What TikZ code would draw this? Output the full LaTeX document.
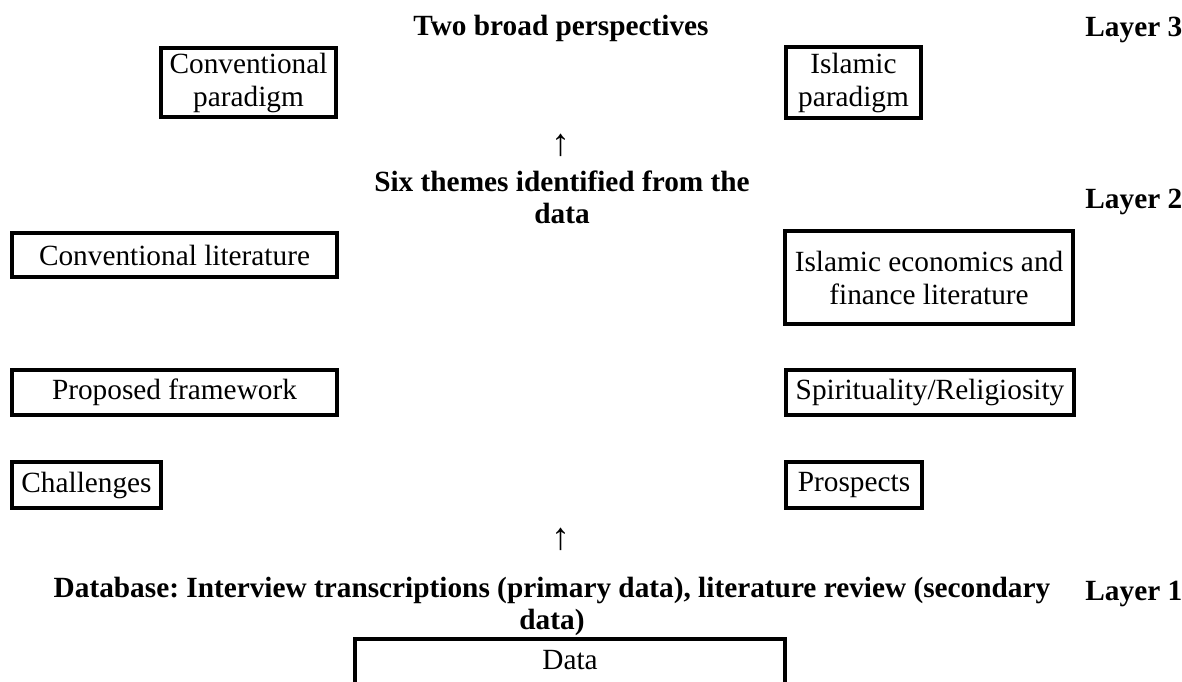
\documentclass[tikz,border=0pt]{standalone}
\usepackage{fontspec}
\setmainfont{Liberation Serif}
\frenchspacing
\begin{document}
\begin{tikzpicture}[x=0.5pt,y=-0.5pt,
  every node/.style={font=\fontsize{14.65pt}{16.5pt}\selectfont, inner sep=0pt},
  box/.style={draw=black, line width=1.75pt, align=center},
  head/.style={font=\fontsize{14.65pt}{16pt}\selectfont\bfseries, align=center},
  layer/.style={font=\fontsize{14.65pt}{16pt}\selectfont\bfseries, anchor=base west},
  uparrow/.style={anchor=center, font=\fontsize{19pt}{20pt}\selectfont}]
\useasboundingbox (0,0) rectangle (1182,681);
\clip (0,0) rectangle (1182,681);

% Layer 3
\node[head, anchor=base] (t3) at (561,35) {Two broad perspectives};
\node[layer] (l3) at (1085,36) {Layer 3};
\node[box, minimum width=87.5pt, minimum height=34.5pt] (cp) at (248.5,82.5) {Conventional\\paradigm};
\node[box, minimum width=67.5pt, minimum height=35.5pt] (ip) at (853.5,82.5) {Islamic\\paradigm};
\node[uparrow] (a2) at (561,145) {↑};

% Layer 2
\node[head, anchor=north] (t2) at (562,170) {Six themes identified from the\\data};
\node[layer] (l2) at (1085,208) {Layer 2};
\node[box, minimum width=162.5pt, minimum height=22pt] (cl) at (174.5,255) {Conventional literature};
\node[box, minimum width=144pt, minimum height=46.5pt] (ie) at (929,277.5) {Islamic economics and\\finance literature};
\node[box, minimum width=162.5pt, minimum height=22.5pt] (pf) at (174.5,392.5) {Proposed framework};
\node[box, minimum width=144pt, minimum height=22.5pt] (sr) at (930,392.5) {Spirituality/Religiosity};
\node[box, minimum width=74.5pt, minimum height=23pt] (ch) at (86.5,485) {Challenges};
\node[box, minimum width=68pt, minimum height=23pt] (pr) at (854,485) {Prospects};
\node[uparrow] (a1) at (561,539) {↑};

% Layer 1
\node[head, anchor=north] (t1) at (552,577) {Database: Interview transcriptions (primary data), literature review (secondary\\data)};
\node[layer] (l1) at (1085,600) {Layer 1};
\coordinate (dbl) at (355,700);
\coordinate (dtl) at (355,639);
\coordinate (dtr) at (785,639);
\coordinate (dbr) at (785,700);
\draw[line width=1.75pt] (dbl) -- (dtl) -- (dtr) -- (dbr);
\node (data) at (570,660) {Data};
\end{tikzpicture}
\end{document}
